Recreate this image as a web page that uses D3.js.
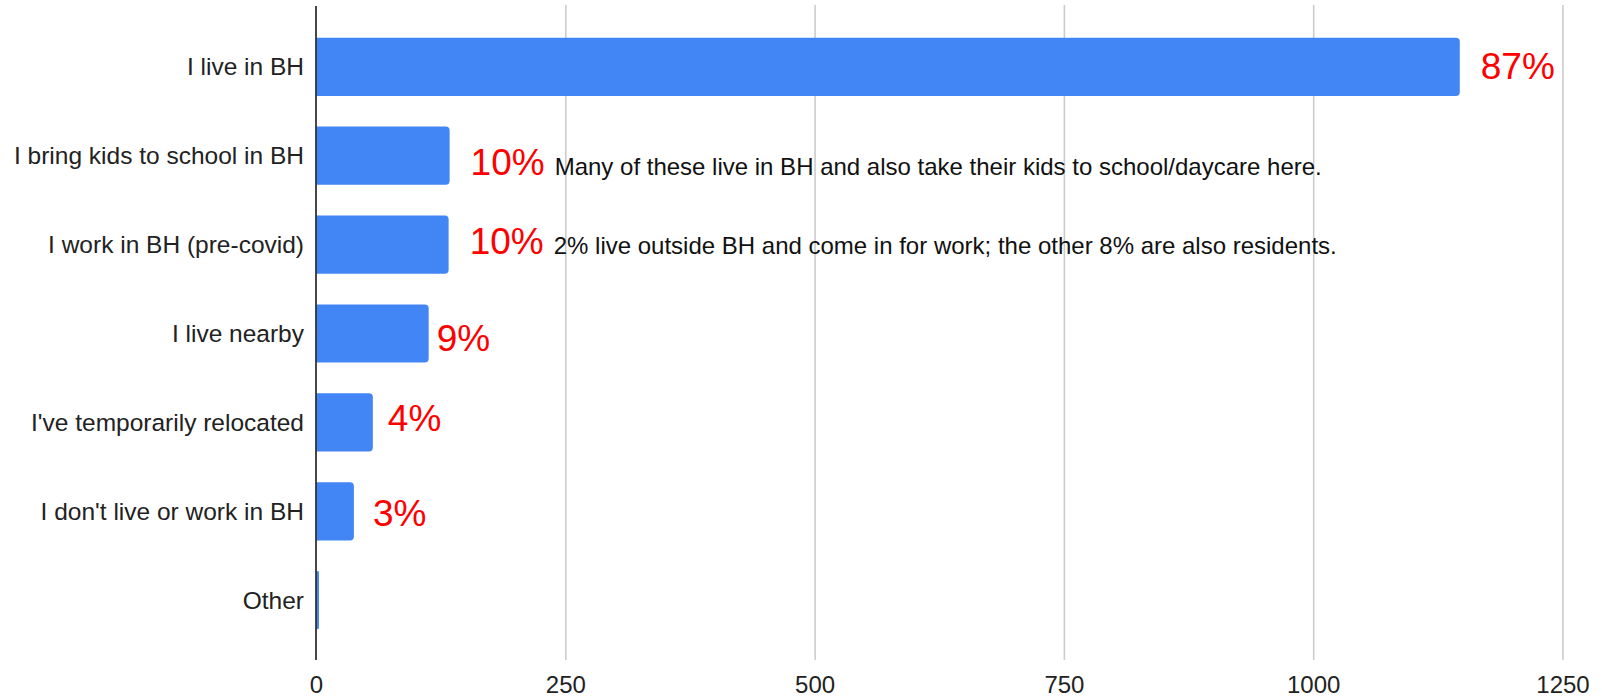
<!DOCTYPE html>
<html>
<head>
<meta charset="utf-8">
<script src="https://cdn.jsdelivr.net/npm/d3@7"></script>
<style>
  body { margin: 0; background: #fff; }
  svg text { font-family: "Liberation Sans", Arial, sans-serif; }
</style>
</head>
<body>
<svg id="chart" width="1602" height="700"></svg>
<script>
// data
var categories = ["I live in BH", "I bring kids to school in BH", "I work in BH (pre-covid)",
                  "I live nearby", "I've temporarily relocated", "I don't live or work in BH", "Other"];
var counts = [1147, 134, 133, 113, 57, 38, 3];
var pctLabels = ["87%", "10%", "10%", "9%", "4%", "3%", ""];
var notes = ["",
             "Many of these live in BH and also take their kids to school/daycare here.",
             "2% live outside BH and come in for work; the other 8% are also residents.",
             "", "", "", ""];
var tickValues = [0, 250, 500, 750, 1000, 1250];

// the % labels were placed by hand in the original, so each one has its own nudge
var labelDx = [21, 21, 21, 8, 15, 19, 0];
var labelDy = [12, 19, 9, 17, 9, 15, 0];

var svg = d3.select("#chart");
var top0 = 7, bottom0 = 660;

var x = d3.scaleLinear().domain([0, 1250]).range([316, 1562.5]);
var y = d3.scaleBand().domain(categories).range([top0, bottom0])
    .paddingInner(0.345).paddingOuter(0.345);

// gridlines + tick labels
var axis = svg.append("g")
    .attr("transform", "translate(0," + bottom0 + ")")
    .call(d3.axisBottom(x).tickValues(tickValues)
        .tickSize(-(bottom0 - 5))
        .tickPadding(16)
        .tickFormat(d3.format("d")));
axis.select(".domain").remove();
axis.selectAll(".tick line")
    .attr("stroke", "#cccccc")
    .attr("stroke-width", 1.6)
    .attr("opacity", function(d){ return d == 0 ? 0 : 1; });
axis.selectAll(".tick text")
    .attr("fill", "#222")
    .style("font-size", "24px")
    .style("font-family", "'Liberation Sans', Arial, sans-serif");

function barPath(d) {
    var x0 = x(0), w = x(d.v) - x(0), yy = y(d.c), h = y.bandwidth();
    var r = Math.min(4, w / 2, h / 2);
    return "M" + x0 + "," + yy +
        "H" + (x0 + w - r) +
        "A" + r + "," + r + " 0 0 1 " + (x0 + w) + "," + (yy + r) +
        "V" + (yy + h - r) +
        "A" + r + "," + r + " 0 0 1 " + (x0 + w - r) + "," + (yy + h) +
        "H" + x0 + "Z";
}

var rows = categories.map(function(c, i){ return {c: c, v: counts[i], i: i}; });

svg.append("g").selectAll("path")
    .data(rows)
    .enter().append("path")
    .attr("d", barPath)
    .attr("fill", "#4285f4");

// zero line on top of bars
svg.append("line")
    .attr("x1", x(0)).attr("x2", x(0))
    .attr("y1", 6).attr("y2", bottom0)
    .attr("stroke", "#333")
    .attr("stroke-width", 1.8);

// category labels
svg.append("g").selectAll("text")
    .data(rows)
    .enter().append("text")
    .attr("x", x(0) - 12)
    .attr("y", function(d){ return y(d.c) + y.bandwidth() / 2; })
    .attr("dy", "0.34em")
    .attr("text-anchor", "end")
    .attr("fill", "#222")
    .style("font-size", "24.5px")
    .text(function(d){ return d.c; });

// percentage labels and notes
rows.forEach(function(d){
    if (!pctLabels[d.i]) return;
    var lx = x(d.v) + labelDx[d.i];
    var ly = y(d.c) + y.bandwidth() / 2 + labelDy[d.i];
    var t = svg.append("text")
        .attr("x", lx).attr("y", ly)
        .attr("fill", "#ff0000")
        .style("font-size", "37px")
        .text(pctLabels[d.i]);
    if (notes[d.i]) {
        svg.append("text")
            .attr("x", lx + t.node().getComputedTextLength() + 10)
            .attr("y", ly)
            .attr("fill", "#111")
            .style("font-size", "24px")
            .text(notes[d.i]);
    }
});
</script>
</body>
</html>
